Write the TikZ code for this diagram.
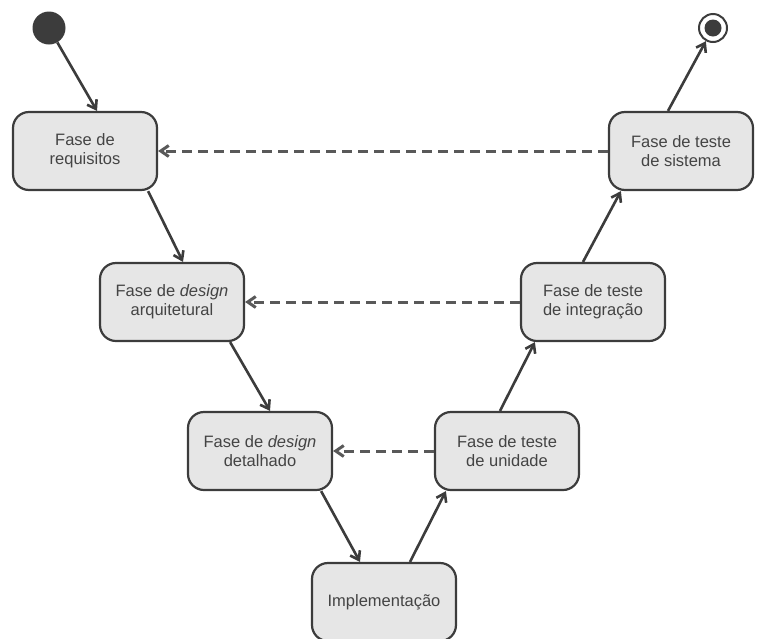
\documentclass[tikz,border=0pt]{standalone}
\usepackage{fontspec}
\setmainfont{Liberation Sans}
\usetikzlibrary{arrows.meta}

\definecolor{boxgray}{HTML}{E6E6E6}
\definecolor{linegray}{HTML}{3C3C3C}
\definecolor{txtgray}{HTML}{444444}

\begin{document}
\begin{tikzpicture}[x=1pt,y=-1pt]
\tikzset{F/.style={draw=linegray,line width=2.2pt,fill=boxgray,rounded corners=16pt,
  minimum width=144pt,minimum height=78pt,align=center,text=txtgray,
  font=\fontsize{16.5}{19}\selectfont}}
\tikzset{E/.style={draw=linegray,line width=2.6pt,-{Straight Barb[length=8pt,width=11pt]}}}
\tikzset{V/.style={draw=linegray!85,line width=3pt,dash pattern=on 10pt off 6pt,
  -{Straight Barb[length=8pt,width=11pt]}}}

  \useasboundingbox (0,0) rectangle (758,638);

  \node[circle,fill=linegray,minimum size=33pt,inner sep=0pt] (ini) at (49,28) {};
  \node[circle,draw=linegray,line width=2pt,fill=white,minimum size=28pt,inner sep=0pt] (fim) at (713,28) {};
  \fill[linegray] (fim.center) circle (8.5pt);

  \node[F] (req) at (85,151)   {Fase de\\requisitos};
  \node[F] (arq) at (172,302)  {Fase de \textit{design}\\arquitetural};
  \node[F] (det) at (260,451)  {Fase de \textit{design}\\detalhado};
  \node[F] (imp) at (384,602)  {Implementação};
  \node[F] (uni) at (507,451)  {Fase de teste\\de unidade};
  \node[F] (int) at (593,302)  {Fase de teste\\de integração};
  \node[F] (sis) at (681,151)  {Fase de teste\\de sistema};

  \draw[E] (ini) -- ([xshift=12pt]req.north);
  \draw[E] ([xshift=-10pt]req.south east) -- ([xshift=11pt]arq.north);
  \draw[E] ([xshift=-15pt]arq.south east) -- ([xshift=10pt]det.north);
  \draw[E] ([xshift=-12pt]det.south east) -- ([xshift=-24pt]imp.north);
  \draw[E] ([xshift=26pt]imp.north) -- ([xshift=12pt]uni.south west);
  \draw[E] ([xshift=-7pt]uni.north) -- ([xshift=15pt]int.south west);
  \draw[E] ([xshift=-10pt]int.north) -- ([xshift=13pt]sis.south west);
  \draw[E] ([xshift=-13pt]sis.north) -- (fim);

  \draw[V] (sis.west) -- (req.east);
  \draw[V] (int.west) -- (arq.east);
  \draw[V] (uni.west) -- (det.east);
\end{tikzpicture}
\end{document}
